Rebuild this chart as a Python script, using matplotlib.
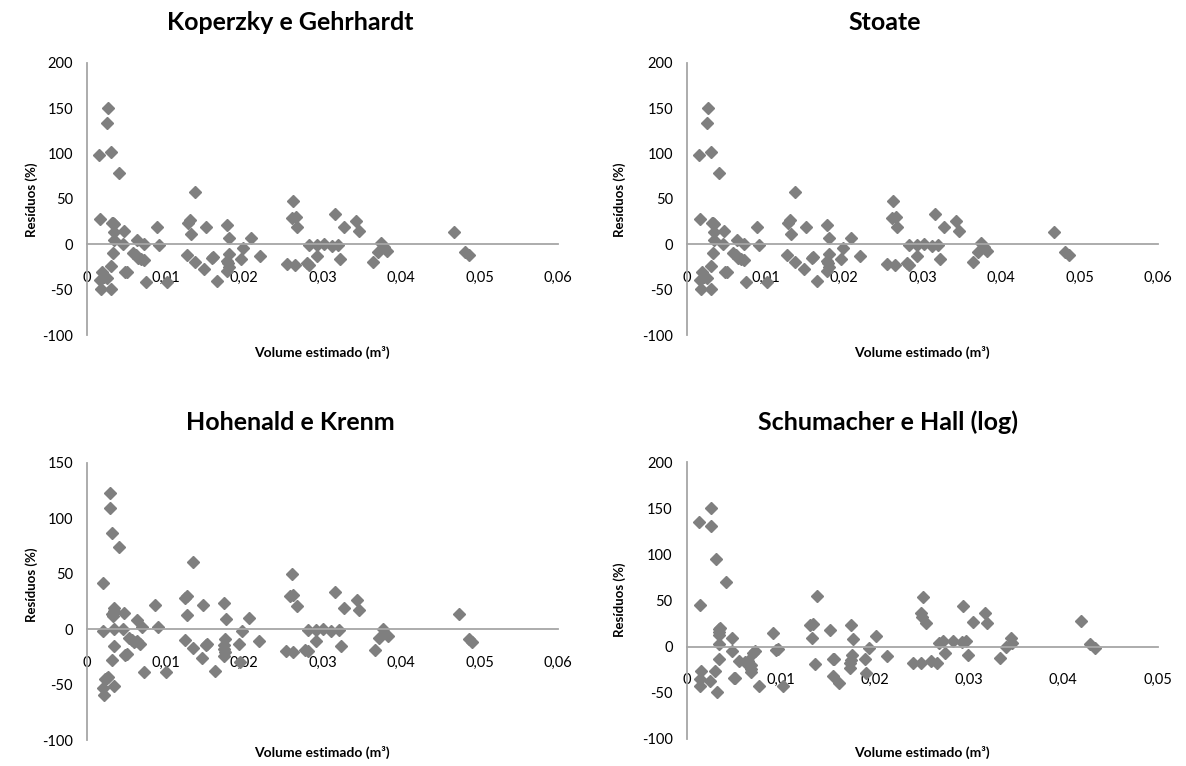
import matplotlib
matplotlib.use("Agg")
import matplotlib.pyplot as plt

plt.rcParams['font.family'] = ['Lato', 'DejaVu Sans']
plt.rcParams['axes.unicode_minus'] = False

# Koperzky e Gehrhardt
kg_x = [0.0027, 0.0026, 0.0015, 0.0031, 0.0041, 0.0017, 0.0032, 0.0034, 0.0033, 0.0034,
        0.0034, 0.0047, 0.0046, 0.0033, 0.0031, 0.0058, 0.0062, 0.0065, 0.0069, 0.0073,
        0.0064, 0.0072, 0.0048, 0.0051, 0.0019, 0.0022, 0.0025, 0.0017, 0.0018, 0.0031,
        0.0075, 0.0089, 0.0092, 0.0102, 0.0129, 0.0131, 0.0132, 0.0138, 0.0128, 0.0138,
        0.0151, 0.0159, 0.0160, 0.0149, 0.0166, 0.0178, 0.0181, 0.0181, 0.0178, 0.0180,
        0.0181, 0.0178, 0.0199, 0.0196, 0.0209, 0.0220, 0.0263, 0.0261, 0.0266, 0.0268,
        0.0255, 0.0265, 0.0283, 0.0293, 0.0302, 0.0312, 0.0320, 0.0280, 0.0283, 0.0293,
        0.0316, 0.0327, 0.0343, 0.0346, 0.0322, 0.0375, 0.0371, 0.0382, 0.0378, 0.0364,
        0.0468, 0.0481, 0.0486]
kg_y = [150, 134, 98, 102, 79, 28, 23, 22, 24, 14,
        5, 15, 0, -10, -24, -10, -12, -15, -16, -17,
        5, 0, -31, -31, -31, -36, -37, -39, -49, -49,
        -41, 19, -1, -42, 24, 27, 11, 58, -12, -19,
        19, -15, -14, -27, -40, 21, 7, -11, -18, -21,
        -25, -29, -4, -16, 7, -13, 48, 29, 30, 19,
        -22, -23, -1, -1, 0, -2, -1, -21, -23, -13,
        34, 19, 26, 15, -16, 1, -8, -7, -3, -19,
        14, -8, -12]

# Stoate (reads the same as the panel above)
st_x = list(kg_x)
st_y = list(kg_y)

# Hohenald e Krenm
hk_x = [0.0029, 0.0029, 0.0032, 0.0041, 0.0020, 0.0021, 0.0033, 0.0035, 0.0034, 0.0032,
        0.0035, 0.0034, 0.0047, 0.0046, 0.0032, 0.0048, 0.0051, 0.0054, 0.0057, 0.0060,
        0.0064, 0.0068, 0.0064, 0.0070, 0.0073, 0.0087, 0.0090, 0.0100, 0.0023, 0.0025,
        0.0027, 0.0021, 0.0022, 0.0034, 0.0125, 0.0128, 0.0128, 0.01355, 0.0125, 0.01355,
        0.0148, 0.0153, 0.0151, 0.0146, 0.0163, 0.0175, 0.0177, 0.0176, 0.0175, 0.0174,
        0.0176, 0.0175, 0.0197, 0.0194, 0.0195, 0.0206, 0.0219, 0.0261, 0.0259, 0.0263,
        0.0267, 0.0253, 0.0263, 0.0282, 0.0292, 0.0301, 0.0311, 0.0321, 0.0278, 0.0281,
        0.0292, 0.0316, 0.0327, 0.0344, 0.0347, 0.0323, 0.0377, 0.0372, 0.0384, 0.0367,
        0.0474, 0.0487, 0.0491]
hk_y = [123, 109, 87, 74, 42, -2, 12, 19, 16, 14,
        0, -15, 15, 0, -28, -23, -22, -8, -10, -12,
        -11, -13, 8, 2, -39, 22, 2, -39, -45, -44,
        -43, -53, -59, -51, 28, 30, 13, 61, -10, -17,
        22, -13, -14, -26, -38, 24, 9, -9, -14, -18,
        -21, -24, -2, -13, -30, 10, -11, 50, 30, 31,
        21, -20, -21, -1, -1, 0, -2, -1, -19, -20,
        -11, 34, 19, 26, 17, -15, 0, -8, -6, -19,
        14, -9, -12]

# Schumacher e Hall (log)
sh_x = [0.0026, 0.0013, 0.0026, 0.0031, 0.0042, 0.0014, 0.0034, 0.0036, 0.0035, 0.0034,
        0.0034, 0.0048, 0.0048, 0.0034, 0.0030, 0.0025, 0.0032, 0.0015, 0.0014, 0.0014,
        0.0050, 0.0052, 0.0056, 0.0062, 0.0065, 0.0068, 0.0069, 0.0068, 0.0073, 0.0071,
        0.0077, 0.0092, 0.0095, 0.0097, 0.0102, 0.0131, 0.0134, 0.0133, 0.0139, 0.0136,
        0.0152, 0.0155, 0.0157, 0.0156, 0.0162, 0.0175, 0.0177, 0.0176, 0.0175, 0.0174,
        0.0174, 0.0190, 0.0194, 0.0201, 0.0191, 0.0213, 0.0251, 0.0249, 0.0250, 0.0254,
        0.0240, 0.0249, 0.0260, 0.0266, 0.0274, 0.0268, 0.0272, 0.0283, 0.0292, 0.0297,
        0.0294, 0.0299, 0.0304, 0.0317, 0.0319, 0.0333, 0.0339, 0.0345, 0.0346, 0.0419,
        0.0428, 0.0434]
sh_y = [150, 135, 131, 95, 70, 45, 19, 20, 16, 13,
        3, 9, -5, -13, -26, -37, -49, -26, -35, -43,
        -34, -34, -16, -17, -16, -20, -24, -27, -5, -7,
        -43, 15, -4, -3, -43, 24, 25, 9, 55, -19,
        18, -13, -13, -32, -39, 23, 8, -9, -14, -18,
        -23, -13, -1, 12, -28, -10, 54, 37, 32, 26,
        -18, -18, -16, -18, -7, 4, 6, 6, 5, 6,
        44, -9, 27, 36, 26, -12, 0, 9, 4, 28,
        3, -1]

titles = ['Koperzky e Gehrhardt', 'Stoate', 'Hohenald e Krenm', 'Schumacher e Hall (log)']
series = [(kg_x, kg_y), (st_x, st_y), (hk_x, hk_y), (sh_x, sh_y)]
xmaxs = [0.06, 0.06, 0.06, 0.05]
ylims = [(-100, 200), (-100, 200), (-100, 150), (-100, 200)]

W, H = 1186, 766
fig = plt.figure(figsize=(W / 100, H / 100), dpi=100)

# axes boxes in pixels: left, top, right, bottom
boxes = [(87, 63, 558, 335), (687, 63, 1158, 335), (87, 463, 558, 740), (686.5, 462, 1157.5, 739)]
title_pos = [(290, 22), (885, 22), (290, 422), (888, 422)]
ylab_pos = [(32, 200), (620, 200), (32, 585), (620, 600)]
xlab_pos = [(322, 352), (922, 352), (322, 752), (922, 752)]

gray_line = '#a6a6a6'
for i in range(4):
    l, t, r, b = boxes[i]
    ax = fig.add_axes([l / W, 1 - b / H, (r - l) / W, (b - t) / H])
    x, y = series[i]
    ax.plot(x, y, linestyle='none', marker='D', markersize=6, color='#7f7f7f', clip_on=False)
    ax.set_xlim(0, xmaxs[i])
    ax.set_ylim(*ylims[i])
    nx = int(round(xmaxs[i] * 100))
    ax.set_xticks([k / 100 for k in range(nx + 1)])
    ax.set_xticklabels(['0'] + [('%.2f' % (k / 100)).replace('.', ',') for k in range(1, nx + 1)])
    ax.set_yticks(range(ylims[i][0], ylims[i][1] + 1, 50))
    for s in ['top', 'right']:
        ax.spines[s].set_visible(False)
    ax.spines['bottom'].set_position(('data', 0))
    ax.spines['bottom'].set_color(gray_line)
    ax.spines['left'].set_color(gray_line)
    ax.spines['bottom'].set_linewidth(1.3)
    ax.spines['left'].set_linewidth(1.3)
    ax.tick_params(axis='x', length=0, pad=19, labelsize=10.5, colors='black')
    ax.tick_params(axis='y', length=0, pad=10, labelsize=10.5, colors='black')
    ax.patch.set_alpha(0)

    fig.text(title_pos[i][0] / W, 1 - title_pos[i][1] / H, titles[i],
             ha='center', va='center', fontsize=18, fontweight='bold')
    fig.text(ylab_pos[i][0] / W, 1 - ylab_pos[i][1] / H, 'Resíduos (%)',
             ha='center', va='center', rotation=90, fontsize=9.5, fontweight='bold')
    fig.text(xlab_pos[i][0] / W, 1 - xlab_pos[i][1] / H, 'Volume estimado (m³)',
             ha='center', va='center', fontsize=10, fontweight='bold')

fig.savefig('out.png', dpi=100)
